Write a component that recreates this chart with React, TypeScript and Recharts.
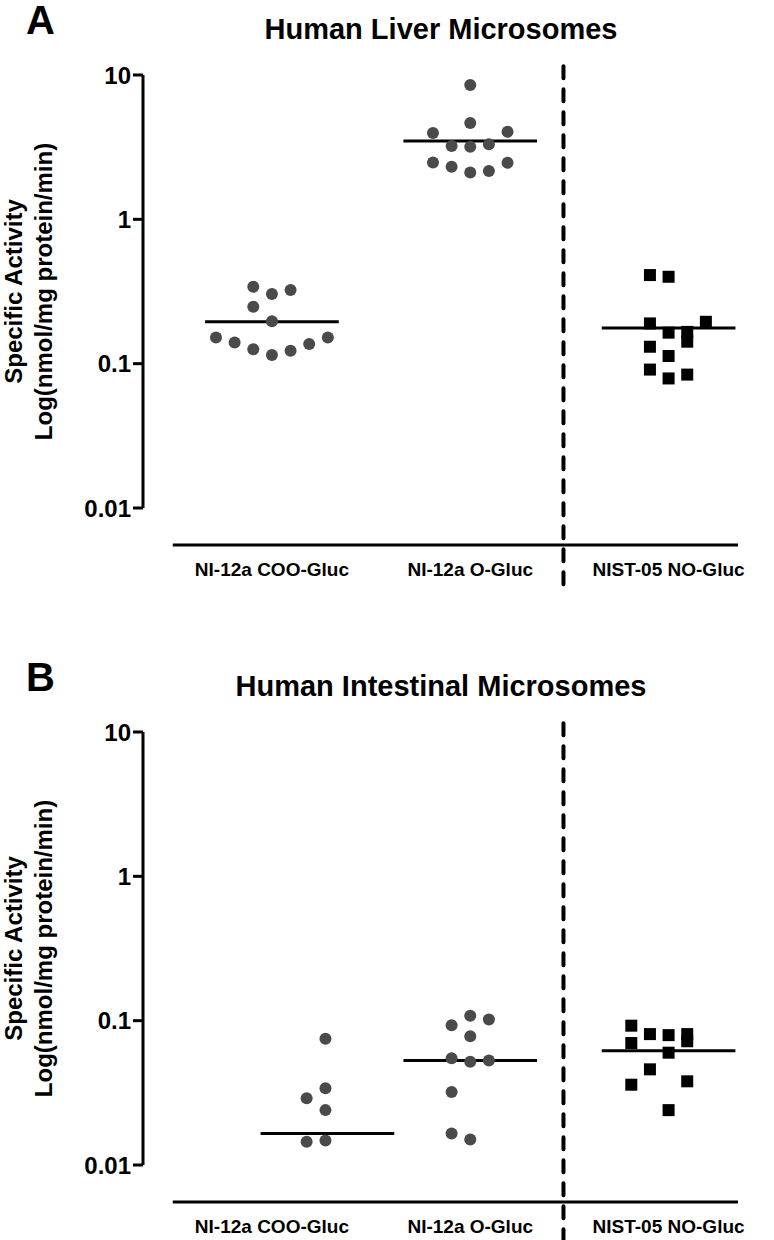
import React from 'react'
import { ScatterChart, Scatter, XAxis, YAxis, ReferenceLine, Label } from 'recharts'

const CATEGORIES = ['NI-12a COO-Gluc', 'NI-12a O-Gluc', 'NIST-05 NO-Gluc']
const Y_TICKS = [0.01, 0.1, 1, 10]

// x = category index + jitter, y = specific activity
const LIVER_COO_X = [0.718, 0.812, 0.906, 0.906, 0.906, 1, 1, 1, 1.094, 1.094, 1.188, 1.282]
const LIVER_COO_Y = [0.152, 0.14, 0.341, 0.248, 0.126, 0.304, 0.197, 0.115, 0.324, 0.123, 0.137, 0.152]
const LIVER_O_X = [2, 2, 1.812, 2.188, 1.906, 2, 2.094, 1.812, 1.906, 2, 2.094, 2.188]
const LIVER_O_Y = [8.53, 4.65, 3.96, 4.05, 3.22, 3.18, 3.31, 2.48, 2.31, 2.11, 2.16, 2.47]
const LIVER_NIST_X = [2.906, 3, 2.906, 3, 3.094, 3.094, 3.188, 2.906, 3, 2.906, 3, 3.094]
const LIVER_NIST_Y = [0.411, 0.4, 0.19, 0.164, 0.166, 0.142, 0.195, 0.131, 0.113, 0.091, 0.079, 0.084]
const LIVER_MEAN_X = [1, 2, 3]
const LIVER_MEANS = [0.195, 3.49, 0.177]

const GUT_COO_X = [1.27, 1.27, 1.175, 1.27, 1.175, 1.27]
const GUT_COO_Y = [0.075, 0.034, 0.029, 0.024, 0.0145, 0.0148]
const GUT_O_X = [2, 2.094, 1.906, 2, 1.906, 2.094, 2, 1.906, 1.906, 2]
const GUT_O_Y = [0.108, 0.102, 0.093, 0.078, 0.055, 0.053, 0.052, 0.032, 0.0165, 0.015]
const GUT_NIST_X = [2.812, 2.906, 3, 3.094, 2.812, 3.094, 3, 2.906, 2.812, 3.094, 3]
const GUT_NIST_Y = [0.0923, 0.0807, 0.0794, 0.0807, 0.07, 0.072, 0.06, 0.046, 0.036, 0.038, 0.024]
const GUT_MEAN_X = [1.28, 2, 3]
const GUT_MEANS = [0.0165, 0.053, 0.062]

const toPoints = (xs: number[], ys: number[]) => xs.map((x, i) => ({ x, y: ys[i] }))

const FONT = '"Liberation Sans", Arial, sans-serif'
const DOT = '#4a4a4a'

const Dot = (props: any) => <circle cx={props.cx} cy={props.cy} r={6} fill={DOT} />
const Square = (props: any) => <rect x={props.cx - 6} y={props.cy - 6} width={12} height={12} fill="#000" />

const YTitle = (props: any) => {
  const { viewBox } = props
  const cy = viewBox.y + viewBox.height / 2
  return (
    <g fontFamily={FONT} fontWeight="bold" fontSize={24} fill="#000">
      <text x={13} y={cy} transform={`rotate(-90 13 ${cy})`} textAnchor="middle" dominantBaseline="central">
        Specific Activity
      </text>
      <text x={43} y={cy} transform={`rotate(-90 43 ${cy})`} textAnchor="middle" dominantBaseline="central">
        Log(nmol/mg protein/min)
      </text>
    </g>
  )
}

type PanelProps = {
  letter: string
  title: string
  coo: { x: number; y: number }[]
  oGluc: { x: number; y: number }[]
  nist: { x: number; y: number }[]
  meanX: number[]
  means: number[]
}

function Panel({ letter, title, coo, oGluc, nist, meanX, means }: PanelProps) {
  return (
    <div style={{ position: 'relative', width: 774, height: 657 }}>
      <div style={{ position: 'absolute', left: 26, top: 0, fontFamily: FONT, fontWeight: 'bold', fontSize: 40, lineHeight: 1 }}>
        {letter}
      </div>
      <div style={{ position: 'absolute', left: 141, width: 600, top: 15, textAlign: 'center', fontFamily: FONT, fontWeight: 'bold', fontSize: 29, lineHeight: 1 }}>
        {title}
      </div>
      <ScatterChart width={774} height={657} margin={{ top: 75, right: 36, bottom: 79, left: 0 }}>
        <XAxis
          type="number"
          dataKey="x"
          domain={[0.35, 3.35]}
          ticks={[1, 2, 3]}
          tickFormatter={(v: number) => CATEGORIES[v - 1]}
          axisLine={false}
          tickLine={false}
          tickSize={0}
          tickMargin={55}
          height={70}
          allowDataOverflow
          tick={{ fill: '#000', fontSize: 19, fontWeight: 'bold', fontFamily: FONT }}
        />
        <YAxis
          type="number"
          dataKey="y"
          scale="log"
          domain={[0.01, 10]}
          ticks={Y_TICKS}
          tickFormatter={(v: number) => String(v)}
          allowDataOverflow
          width={143}
          tickSize={10}
          tickMargin={2}
          axisLine={{ stroke: '#000', strokeWidth: 3 }}
          tickLine={{ stroke: '#000', strokeWidth: 3 }}
          tick={{ fill: '#000', fontSize: 24, fontWeight: 'bold', fontFamily: FONT }}
        >
          <Label content={YTitle} />
        </YAxis>
        {/* offset x axis line, below the 0.01 tick */}
        <ReferenceLine
          segment={[{ x: 0.5, y: 0.00554 }, { x: 3.35, y: 0.00554 }]}
          stroke="#000"
          strokeWidth={3}
          ifOverflow="visible"
        />
        {/* dashed separator */}
        <ReferenceLine
          segment={[{ x: 2.47, y: 11.5 }, { x: 2.47, y: 0.0027 }]}
          stroke="#000"
          strokeWidth={4}
          strokeDasharray="12 11"
          strokeLinecap="round"
          ifOverflow="visible"
        />
        {means.map((m, i) => (
          <ReferenceLine
            key={i}
            segment={[{ x: meanX[i] - 0.337, y: m }, { x: meanX[i] + 0.337, y: m }]}
            stroke="#000"
            strokeWidth={3}
            ifOverflow="visible"
          />
        ))}
        <Scatter data={coo} shape={Dot} isAnimationActive={false} />
        <Scatter data={oGluc} shape={Dot} isAnimationActive={false} />
        <Scatter data={nist} shape={Square} isAnimationActive={false} />
      </ScatterChart>
    </div>
  )
}

export default function App() {
  return (
    <div style={{ position: 'absolute', left: 0, top: 0, width: 774, height: 1240, background: '#fff' }}>
      <Panel
        letter="A"
        title="Human Liver Microsomes"
        coo={toPoints(LIVER_COO_X, LIVER_COO_Y)}
        oGluc={toPoints(LIVER_O_X, LIVER_O_Y)}
        nist={toPoints(LIVER_NIST_X, LIVER_NIST_Y)}
        meanX={LIVER_MEAN_X}
        means={LIVER_MEANS}
      />
      <Panel
        letter="B"
        title="Human Intestinal Microsomes"
        coo={toPoints(GUT_COO_X, GUT_COO_Y)}
        oGluc={toPoints(GUT_O_X, GUT_O_Y)}
        nist={toPoints(GUT_NIST_X, GUT_NIST_Y)}
        meanX={GUT_MEAN_X}
        means={GUT_MEANS}
      />
    </div>
  )
}
